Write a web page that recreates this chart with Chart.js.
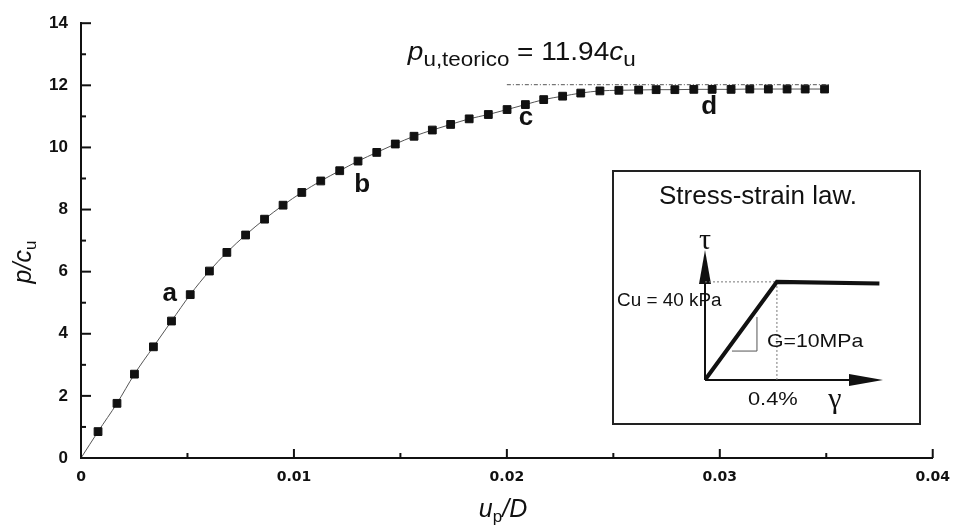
<!DOCTYPE html>
<html>
<head>
<meta charset="utf-8">
<script src="https://cdn.jsdelivr.net/npm/chart.js@4.4.0/dist/chart.umd.min.js"></script>
<style>
  html, body { margin: 0; padding: 0; background: #fff; }
  #wrap { position: relative; width: 961px; height: 527px; }
  #inset { position: absolute; left: 612px; top: 170px; width: 305px; height: 251px; border: 2px solid #222; background: #fff; }
  #inset canvas { display: block; }
</style>
</head>
<body>
<div id="wrap">
  <canvas id="mainChart" width="961" height="527"></canvas>
  <div id="inset"><canvas id="insetChart" width="305" height="251"></canvas></div>
</div>
<script>
// pile response: normalised displacement u_p/D vs normalised load p/c_u
const dispD = [0, 0.00080, 0.00169, 0.00251, 0.00340, 0.00425, 0.00513, 0.00603, 0.00685, 0.00773, 0.00862,
  0.00949, 0.01037, 0.01126, 0.01215, 0.01301, 0.01389, 0.01476, 0.01564, 0.01650, 0.01736,
  0.01823, 0.01913, 0.02001, 0.02087, 0.02173, 0.02262, 0.02347, 0.02437, 0.02526, 0.02619,
  0.02701, 0.02789, 0.02878, 0.02964, 0.03053, 0.03141, 0.03228, 0.03316, 0.03401, 0.03492];
const loadCu = [0, 0.85, 1.76, 2.70, 3.58, 4.41, 5.26, 6.02, 6.62, 7.18, 7.69,
  8.14, 8.55, 8.92, 9.25, 9.56, 9.84, 10.11, 10.36, 10.56, 10.74,
  10.92, 11.06, 11.22, 11.38, 11.54, 11.65, 11.75, 11.82, 11.84, 11.85,
  11.86, 11.86, 11.87, 11.87, 11.87, 11.88, 11.88, 11.88, 11.88, 11.88];

// theoretical limit line
const limitX = [0.020, 0.0352];
const limitY = [12.02, 12.02];

// point labels
const markNames = ['a', 'b', 'c', 'd'];
const markX = [0.00417, 0.0132, 0.0209, 0.0295];
const markY = [5.30, 8.79, 10.94, 11.30];

// ticks
const xTicks = [0, 0.01, 0.02, 0.03, 0.04];
const xMinor = [0.005, 0.015, 0.025, 0.035];
const yTicks = [0, 2, 4, 6, 8, 10, 12, 14];
const yMinor = [1, 3, 5, 7, 9, 11, 13];

// inset: stress-strain law
const strainPct = [0, 0.4, 0.97];
const stressKPa = [0, 40, 39.3];

const SANS = '"Liberation Sans", Arial, sans-serif';

function drawRuns(ctx, runs, x, y, sx) {
  sx = sx || 1;
  ctx.save();
  ctx.translate(x, y);
  ctx.scale(sx, 1);
  let cx = 0;
  runs.forEach(r => {
    ctx.font = r.font;
    ctx.fillText(r.text, cx, r.dy || 0);
    cx += ctx.measureText(r.text).width;
  });
  ctx.restore();
  return cx * sx;
}
function runsWidth(ctx, runs) {
  let w = 0;
  runs.forEach(r => { ctx.font = r.font; w += ctx.measureText(r.text).width; });
  return w;
}

const mainDecor = {
  id: 'mainDecor',
  afterDraw(chart) {
    const ctx = chart.ctx;
    const xs = chart.scales.x, ys = chart.scales.y;
    const area = chart.chartArea;
    ctx.save();
    ctx.strokeStyle = '#111';
    ctx.lineWidth = 2;
    // inward ticks on y axis
    yTicks.forEach(v => {
      const p = ys.getPixelForValue(v);
      ctx.beginPath(); ctx.moveTo(area.left, p); ctx.lineTo(area.left + 10, p); ctx.stroke();
    });
    yMinor.forEach(v => {
      const p = ys.getPixelForValue(v);
      ctx.beginPath(); ctx.moveTo(area.left, p); ctx.lineTo(area.left + 5, p); ctx.stroke();
    });
    // inward ticks on x axis
    xTicks.forEach(v => {
      const p = xs.getPixelForValue(v);
      ctx.beginPath(); ctx.moveTo(p, area.bottom); ctx.lineTo(p, area.bottom - 9); ctx.stroke();
    });
    xMinor.forEach(v => {
      const p = xs.getPixelForValue(v);
      ctx.beginPath(); ctx.moveTo(p, area.bottom); ctx.lineTo(p, area.bottom - 5); ctx.stroke();
    });

    ctx.fillStyle = '#111';
    ctx.textBaseline = 'alphabetic';
    ctx.textAlign = 'left';

    // x axis title u_p/D
    const xt = [
      { text: 'u', font: 'italic 25px ' + SANS },
      { text: 'p', font: '17px ' + SANS, dy: 5 },
      { text: '/D', font: 'italic 25px ' + SANS }
    ];
    drawRuns(ctx, xt, 503 - runsWidth(ctx, xt) / 2, 517);

    // y axis title p/c_u
    const yt = [
      { text: 'p/c', font: 'italic 25px ' + SANS },
      { text: 'u', font: '17px ' + SANS, dy: 5 }
    ];
    ctx.save();
    ctx.translate(31, 262);
    ctx.rotate(-Math.PI / 2);
    drawRuns(ctx, yt, -runsWidth(ctx, yt) / 2, 0);
    ctx.restore();

    // theoretical value label
    const tt = [
      { text: 'p', font: 'italic 25px ' + SANS },
      { text: 'u,teorico', font: '20px ' + SANS, dy: 6 },
      { text: ' = 11.94', font: '25px ' + SANS },
      { text: 'c', font: 'italic 25px ' + SANS },
      { text: 'u', font: '20px ' + SANS, dy: 6 }
    ];
    drawRuns(ctx, tt, xs.getPixelForValue(0.01535), ys.getPixelForValue(12.81), 1.12);

    // point labels a b c d
    ctx.font = 'bold 26px ' + SANS;
    ctx.textAlign = 'center';
    ctx.textBaseline = 'middle';
    markNames.forEach((n, i) => {
      ctx.fillText(n, xs.getPixelForValue(markX[i]), ys.getPixelForValue(markY[i]));
    });
    ctx.restore();
  }
};

new Chart(document.getElementById('mainChart'), {
  type: 'line',
  data: {
    datasets: [
      {
        data: dispD.map((x, i) => ({ x, y: loadCu[i] })),
        borderColor: '#555',
        borderWidth: 1,
        pointStyle: 'rect',
        pointRadius: c => (c.dataIndex === 0 ? 0 : 5.5),
        pointBackgroundColor: '#111',
        pointBorderColor: '#111',
        pointBorderWidth: 1,
        cubicInterpolationMode: 'monotone',
        order: 1
      },
      {
        data: limitX.map((x, i) => ({ x, y: limitY[i] })),
        borderColor: '#555',
        borderWidth: 1,
        borderDash: [4, 2, 1, 2],
        pointRadius: 0,
        order: 2
      }
    ]
  },
  options: {
    responsive: false,
    animation: false,
    layout: { padding: { top: 23, right: 19, left: 0, bottom: 0 } },
    plugins: { legend: { display: false }, tooltip: { enabled: false } },
    scales: {
      x: {
        type: 'linear', min: 0, max: 0.04,
        afterBuildTicks: s => { s.ticks = xTicks.map(v => ({ value: v })); },
        afterFit: s => { s.height = 69; },
        grid: { drawOnChartArea: false, drawTicks: false },
        border: { color: '#111', width: 2 },
        ticks: {
          padding: 11, color: '#111',
          font: { family: '"DejaVu Sans"', size: 14, weight: 'bold' },
          callback: v => String(v)
        }
      },
      y: {
        type: 'linear', min: 0, max: 14,
        afterBuildTicks: s => { s.ticks = yTicks.map(v => ({ value: v })); },
        afterFit: s => { s.width = 81; },
        grid: { drawOnChartArea: false, drawTicks: false },
        border: { color: '#111', width: 2 },
        ticks: {
          padding: 13, color: '#111',
          font: { family: '"Liberation Sans"', size: 17, weight: 'bold' }
        }
      }
    }
  },
  plugins: [mainDecor]
});

function arrowHead(ctx, x, y, dir) {
  ctx.beginPath();
  if (dir === 'up') {
    ctx.moveTo(x, y); ctx.lineTo(x - 6, y + 34); ctx.lineTo(x + 6, y + 34);
  } else {
    ctx.moveTo(x, y); ctx.lineTo(x - 34, y - 6); ctx.lineTo(x - 34, y + 6);
  }
  ctx.closePath();
  ctx.fill();
}

const insetDecor = {
  id: 'insetDecor',
  beforeDatasetsDraw(chart) {
    const ctx = chart.ctx;
    const xs = chart.scales.x, ys = chart.scales.y;
    const ox = xs.getPixelForValue(0), oy = ys.getPixelForValue(0);
    const tipX = xs.getPixelForValue(xs.max), tipY = ys.getPixelForValue(ys.max);
    const kx = xs.getPixelForValue(strainPct[1]), ky = ys.getPixelForValue(stressKPa[1]);
    ctx.save();
    ctx.strokeStyle = '#111';
    ctx.fillStyle = '#111';
    ctx.lineWidth = 2;
    ctx.beginPath(); ctx.moveTo(ox, oy); ctx.lineTo(ox, tipY + 10); ctx.stroke();
    ctx.beginPath(); ctx.moveTo(ox, oy); ctx.lineTo(tipX - 10, oy); ctx.stroke();
    arrowHead(ctx, ox, tipY, 'up');
    arrowHead(ctx, tipX, oy, 'right');
    // dotted guides
    ctx.lineWidth = 1;
    ctx.strokeStyle = '#777';
    ctx.setLineDash([2, 2]);
    ctx.beginPath(); ctx.moveTo(ox, ky); ctx.lineTo(kx, ky); ctx.lineTo(kx, oy); ctx.stroke();
    ctx.setLineDash([]);
    // slope triangle
    ctx.strokeStyle = '#555';
    const t1 = xs.getPixelForValue(0.15), t2 = xs.getPixelForValue(0.289);
    const s1 = ys.getPixelForValue(11.8), s2 = ys.getPixelForValue(25.7);
    ctx.beginPath(); ctx.moveTo(t1, s1); ctx.lineTo(t2, s1); ctx.lineTo(t2, s2); ctx.stroke();
    ctx.restore();
  },
  afterDraw(chart) {
    const ctx = chart.ctx;
    const xs = chart.scales.x, ys = chart.scales.y;
    const ox = xs.getPixelForValue(0), oy = ys.getPixelForValue(0);
    const tipX = xs.getPixelForValue(xs.max), tipY = ys.getPixelForValue(ys.max);
    const kx = xs.getPixelForValue(strainPct[1]), ky = ys.getPixelForValue(stressKPa[1]);
    ctx.save();
    ctx.fillStyle = '#111';
    ctx.textBaseline = 'middle';
    ctx.textAlign = 'center';
    ctx.font = '26px ' + SANS;
    ctx.fillText('Stress-strain law.', 144, 25);
    ctx.font = '30px "Liberation Serif", serif';
    ctx.fillText('\u03c4', ox, tipY - 9);
    ctx.fillText('\u03b3', tipX - 48, oy + 20);
    ctx.textAlign = 'left';
    ctx.textBaseline = 'alphabetic';
    drawRuns(ctx, [{ text: 'Cu = 40 kPa', font: '18px ' + SANS }], 3, ky + 24, 1.05);
    drawRuns(ctx, [{ text: 'G=10MPa', font: '19px ' + SANS }], kx - 10, ys.getPixelForValue(16.4) + 7, 1.12);
    drawRuns(ctx, [{ text: '0.4%', font: '19px ' + SANS }], kx - 29, oy + 25, 1.15);
    ctx.restore();
  }
};

new Chart(document.getElementById('insetChart'), {
  type: 'line',
  data: {
    datasets: [{
      data: strainPct.map((x, i) => ({ x, y: stressKPa[i] })),
      borderColor: '#111',
      borderWidth: 4,
      pointRadius: 0,
      tension: 0
    }]
  },
  options: {
    responsive: false,
    animation: false,
    layout: { padding: { left: 91, top: 78, right: 36, bottom: 43 } },
    plugins: { legend: { display: false }, tooltip: { enabled: false } },
    scales: {
      x: { type: 'linear', min: 0, max: 0.99, display: false },
      y: { type: 'linear', min: 0, max: 53, display: false }
    }
  },
  plugins: [insetDecor]
});
</script>
</body>
</html>
